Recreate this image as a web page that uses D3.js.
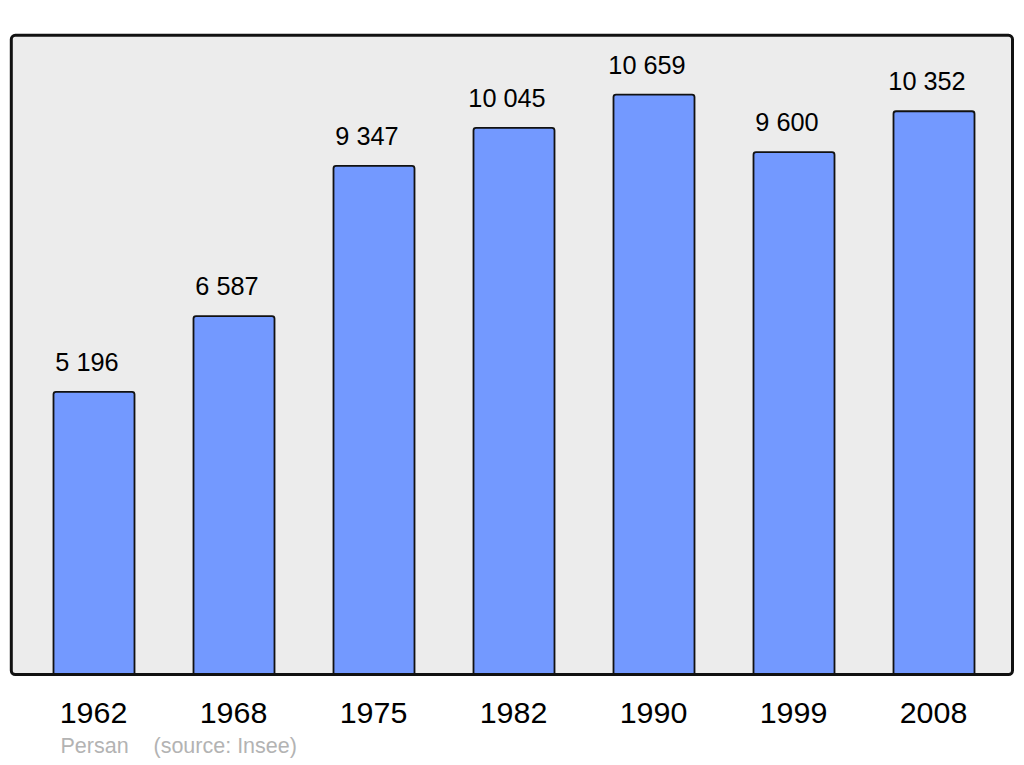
<!DOCTYPE html>
<html>
<head>
<meta charset="utf-8">
<style>
  body { margin: 0; background: #fff; }
  svg { display: block; font-family: "Liberation Sans", Arial, sans-serif; }
</style>
</head>
<body>
<svg width="1024" height="765"></svg>
<script src="https://d3js.org/d3.v7.min.js"></script>
<script>

  // data
  var years = ["1962", "1968", "1975", "1982", "1990", "1999", "2008"];
  var population = [5196, 6587, 9347, 10045, 10659, 9600, 10352];
  var commune = "Persan";
  var source = "(source: Insee)";

  var svg = d3.select("svg"),
    frame = { left: 11.3, top: 35.3, right: 1012.5, bottom: 674.5 };

  var x = d3.scaleBand()
    .domain(years)
    .range([53.5, 974.5])
    .paddingInner(59 / 140)
    .paddingOuter(0);

  var y = d3.scaleLinear()
    .domain([0, 11748])
    .range([frame.bottom, frame.top]);

  var fmt = function (v) { return d3.format(",")(v).replace(/,/g, " "); };

  // background frame
  svg.append("rect")
    .attr("x", frame.left)
    .attr("y", frame.top)
    .attr("width", frame.right - frame.left)
    .attr("height", frame.bottom - frame.top)
    .attr("rx", 4)
    .attr("fill", "#ececec");

  var data = years.map(function (d, i) { return { year: d, value: population[i] }; });

  svg.append("g").selectAll("rect")
    .data(data)
    .enter().append("rect")
    .attr("x", function (d) { return x(d.year); })
    .attr("y", function (d) { return y(d.value); })
    .attr("width", x.bandwidth())
    .attr("height", function (d) { return y(0) - y(d.value) + 4; })
    .attr("rx", 2.5)
    .attr("fill", "#7399ff")
    .attr("stroke", "#111")
    .attr("stroke-width", 1.8);

  // frame outline drawn over bar bottoms
  svg.append("rect")
    .attr("x", frame.left)
    .attr("y", frame.top)
    .attr("width", frame.right - frame.left)
    .attr("height", frame.bottom - frame.top)
    .attr("rx", 4)
    .attr("fill", "none")
    .attr("stroke", "#111")
    .attr("stroke-width", 3);

  // cover bar overflow below the frame
  svg.append("rect")
    .attr("x", 0)
    .attr("y", frame.bottom + 1.5)
    .attr("width", 1024)
    .attr("height", 10)
    .attr("fill", "#fff");

  svg.append("g").selectAll("text")
    .data(data)
    .enter().append("text")
    .attr("x", function (d) { return x(d.year) + x.bandwidth() / 2 - 7; })
    .attr("y", function (d) { return y(d.value) - 21; })
    .attr("text-anchor", "middle")
    .attr("font-size", 25.3)
    .attr("fill", "#000")
    .text(function (d) { return fmt(d.value); });

  svg.append("g").selectAll("text")
    .data(years)
    .enter().append("text")
    .attr("x", function (d) { return x(d) + x.bandwidth() / 2 - 0.5; })
    .attr("y", 722.7)
    .attr("text-anchor", "middle")
    .attr("font-size", 30.4)
    .attr("fill", "#000")
    .text(function (d) { return d; });

  svg.append("text")
    .attr("x", 60.5)
    .attr("y", 753.3)
    .attr("font-size", 21.5)
    .attr("fill", "#b3b3b3")
    .text(commune);

  svg.append("text")
    .attr("x", 153.5)
    .attr("y", 753.3)
    .attr("font-size", 21.5)
    .attr("fill", "#b3b3b3")
    .text(source);

</script>
</body>
</html>
